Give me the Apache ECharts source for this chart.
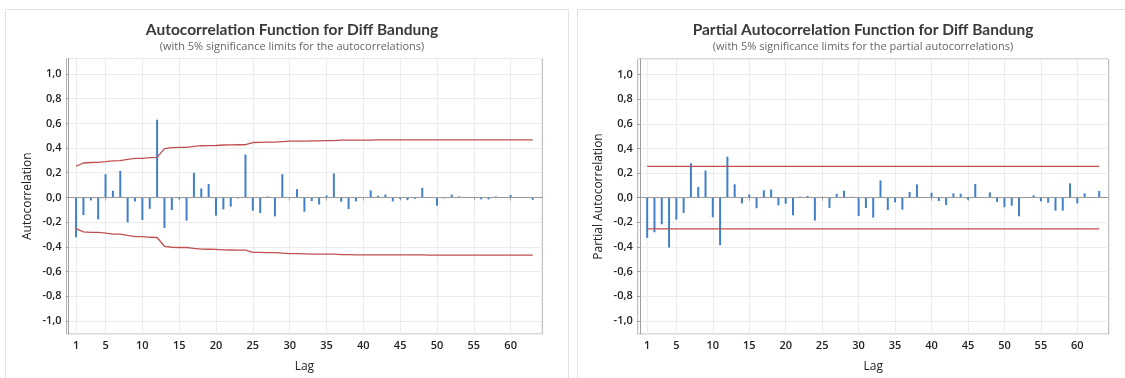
<!DOCTYPE html>
<html lang="en">

<head>
  <meta charset="utf-8">
  <title>ACF / PACF - Diff Bandung</title>
  <style>
    * {
      margin: 0;
      padding: 0;
    }

    #chart-container {
      position: relative;
      width: 1125px;
      height: 378px;
      overflow: hidden;
      background: #fff;
    }
  </style>
</head>

<body>
  <div id="chart-container"></div>
  <script src="https://cdn.jsdelivr.net/npm/echarts@6/dist/echarts.min.js"></script>
  <script>
    var dom = document.getElementById('chart-container');
    var myChart = echarts.init(dom, null, { renderer: 'canvas' });

    // lags 1..63
    var lags = [1, 2, 3, 4, 5, 6, 7, 8, 9, 10, 11, 12, 13, 14, 15, 16, 17, 18, 19, 20,
      21, 22, 23, 24, 25, 26, 27, 28, 29, 30, 31, 32, 33, 34, 35, 36, 37, 38, 39, 40,
      41, 42, 43, 44, 45, 46, 47, 48, 49, 50, 51, 52, 53, 54, 55, 56, 57, 58, 59, 60,
      61, 62, 63];
    var lagTicks = [1, 5, 10, 15, 20, 25, 30, 35, 40, 45, 50, 55, 60];

    var acf = [-0.323, -0.143, -0.024, -0.178, 0.188, 0.054, 0.215, -0.202, -0.032, -0.183,
      -0.092, 0.630, -0.248, -0.102, -0.013, -0.188, 0.199, 0.073, 0.108, -0.148,
      -0.097, -0.075, -0.008, 0.347, -0.108, -0.127, 0.008, -0.153, 0.188, 0.003,
      0.067, -0.116, -0.030, -0.057, 0.016, 0.194, -0.035, -0.094, -0.032, 0.003,
      0.057, 0.013, 0.024, -0.032, -0.013, -0.022, -0.011, 0.078, 0.002, -0.067,
      -0.008, 0.024, 0.008, 0.002, -0.003, -0.016, -0.016, 0.008, -0.002, 0.020,
      0.002, -0.002, -0.019];

    // upper 5% limit for the ACF (lower is the mirror)
    var acfLimit = [0.253, 0.279, 0.283, 0.284, 0.290, 0.297, 0.298, 0.308, 0.317, 0.317,
      0.323, 0.325, 0.396, 0.404, 0.406, 0.406, 0.413, 0.419, 0.420, 0.421,
      0.425, 0.426, 0.427, 0.427, 0.445, 0.446, 0.448, 0.448, 0.452, 0.456,
      0.456, 0.457, 0.459, 0.459, 0.460, 0.460, 0.464, 0.464, 0.465, 0.465,
      0.465, 0.466, 0.466, 0.466, 0.466, 0.466, 0.466, 0.466, 0.467, 0.467,
      0.467, 0.467, 0.467, 0.467, 0.467, 0.467, 0.467, 0.467, 0.467, 0.467,
      0.467, 0.467, 0.467];

    var pacf = [-0.326, -0.281, -0.216, -0.405, -0.178, -0.124, 0.280, 0.087, 0.220, -0.159,
      -0.386, 0.333, 0.109, -0.046, 0.026, -0.086, 0.060, 0.066, -0.062, -0.049,
      -0.143, 0.008, 0.014, -0.186, 0.008, -0.083, 0.032, 0.057, 0.008, -0.149,
      -0.083, -0.162, 0.140, -0.100, -0.038, -0.097, 0.046, 0.108, 0.005, 0.040,
      -0.027, -0.060, 0.035, 0.032, -0.016, 0.111, 0.000, 0.043, -0.035, -0.078,
      -0.065, -0.151, 0.000, 0.019, -0.030, -0.041, -0.105, -0.105, 0.116, -0.046,
      0.035, 0.000, 0.054];
    var pacfLimit = 0.254;

    var FONT = '"Open Sans", "Noto Sans", sans-serif';
    var barColor = '#4080c8';
    var limColor = '#c05050';

    function pairs(ys) {
      return lags.map(function (l, i) { return [l, ys[i]]; });
    }

    function xAxisFor(idx) {
      return {
        type: 'value',
        gridIndex: idx,
        min: -0.3,
        max: 64.3,
        name: 'Lag',
        nameLocation: 'middle',
        nameGap: 27,
        nameTextStyle: { color: '#222', fontSize: 12, fontFamily: FONT },
        axisLine: { show: true, lineStyle: { color: '#a0a0a0' } },
        axisTick: { show: true, length: 3, customValues: lagTicks, lineStyle: { color: '#a0a0a0' } },
        axisLabel: { customValues: lagTicks, color: '#222', fontSize: 11, fontWeight: 600, fontFamily: FONT, margin: 6 },
        splitLine: { show: true, lineStyle: { color: '#ececec' } }
      };
    }

    function yAxisFor(idx, name) {
      return {
        type: 'value',
        gridIndex: idx,
        min: -1.107,
        max: 1.126,
        splitNumber: 11,
        name: name,
        nameLocation: 'middle',
        nameGap: 33,
        nameTextStyle: { color: '#222', fontSize: 12, fontFamily: FONT },
        axisLine: { show: true, lineStyle: { color: '#a0a0a0' } },
        axisTick: { show: true, length: 3, lineStyle: { color: '#a0a0a0' } },
        axisLabel: {
          color: '#222', fontSize: 11, fontWeight: 600, fontFamily: FONT, margin: 5,
          showMinLabel: false, showMaxLabel: false,
          formatter: function (v) { return v.toFixed(1).replace('.', ','); }
        },
        splitLine: { show: true, lineStyle: { color: '#ececec' } }
      };
    }

    var zeroLine = {
      silent: true,
      symbol: 'none',
      label: { show: false },
      lineStyle: { color: '#9a9a9a', type: 'solid', width: 1 },
      data: [{ yAxis: 0 }]
    };

    var titleStyle = { color: '#3a3a3a', fontSize: 15.5, fontWeight: 700, fontFamily: 'Lato, "Open Sans", sans-serif' };
    var subStyle = { color: '#666', fontSize: 11, fontFamily: FONT };

    var option = {
      backgroundColor: '#fff',
      animation: false,
      title: [
        {
          text: 'Autocorrelation Function for Diff Bandung',
          subtext: '(with 5% significance limits for the autocorrelations)',
          left: 287, top: 17, textAlign: 'center', itemGap: 3,
          textStyle: titleStyle,
          subtextStyle: subStyle
        },
        {
          text: 'Partial Autocorrelation Function for Diff Bandung',
          subtext: '(with 5% significance limits for the partial autocorrelations)',
          left: 858, top: 17, textAlign: 'center', itemGap: 3,
          textStyle: titleStyle,
          subtextStyle: subStyle
        }
      ],
      graphic: [
        { type: 'rect', shape: { x: 5.5, y: 9.5, width: 563, height: 400 }, style: { fill: 'none', stroke: '#e2e2e2' }, z: -10 },
        { type: 'rect', shape: { x: 577.5, y: 9.5, width: 560, height: 400 }, style: { fill: 'none', stroke: '#e2e2e2' }, z: -10 }
      ],
      grid: [
        { left: 66.5, right: 582.7, top: 58.5, bottom: 42, show: true, borderColor: '#b0b0b0', borderWidth: 1 },
        { left: 637.7, right: 16.3, top: 59, bottom: 42, show: true, borderColor: '#b0b0b0', borderWidth: 1 }
      ],
      xAxis: [xAxisFor(0), xAxisFor(1)],
      yAxis: [yAxisFor(0, 'Autocorrelation'), yAxisFor(1, 'Partial Autocorrelation')],
      series: [
        {
          type: 'bar', xAxisIndex: 0, yAxisIndex: 0, barWidth: 2,
          itemStyle: { color: barColor },
          data: pairs(acf),
          markLine: zeroLine
        },
        {
          type: 'line', xAxisIndex: 0, yAxisIndex: 0, showSymbol: false,
          lineStyle: { color: limColor, width: 1.3 },
          data: pairs(acfLimit)
        },
        {
          type: 'line', xAxisIndex: 0, yAxisIndex: 0, showSymbol: false,
          lineStyle: { color: limColor, width: 1.3 },
          data: pairs(acfLimit.map(function (v) { return -v; }))
        },
        {
          type: 'bar', xAxisIndex: 1, yAxisIndex: 1, barWidth: 2,
          itemStyle: { color: barColor },
          data: pairs(pacf),
          markLine: zeroLine
        },
        {
          type: 'line', xAxisIndex: 1, yAxisIndex: 1, showSymbol: false,
          lineStyle: { color: limColor, width: 1.3 },
          data: pairs(lags.map(function () { return pacfLimit; }))
        },
        {
          type: 'line', xAxisIndex: 1, yAxisIndex: 1, showSymbol: false,
          lineStyle: { color: limColor, width: 1.3 },
          data: pairs(lags.map(function () { return -pacfLimit; }))
        }
      ]
    };

    myChart.setOption(option);
    window.addEventListener('resize', myChart.resize);
  </script>
</body>

</html>
